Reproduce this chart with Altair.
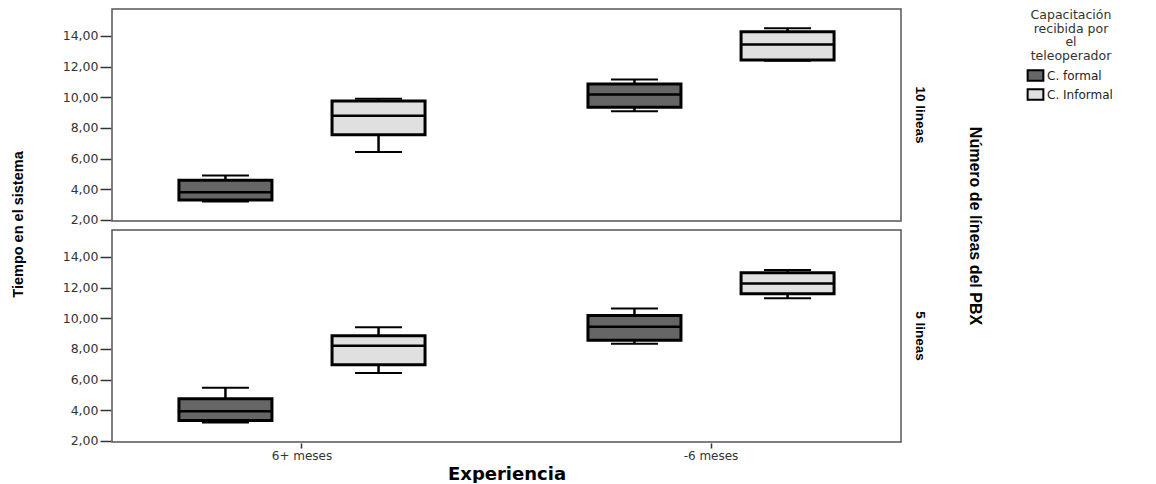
import altair as alt
import pandas as pd

lineas = ["10 lineas"] * 4 + ["5 lineas"] * 4
experiencia = ["6+ meses", "6+ meses", "-6 meses", "-6 meses"] * 2
capacitacion = ["C. formal", "C. Informal"] * 4
whisker_lo = [3.20, 6.42, 9.08, 12.38, 3.20, 6.42, 8.33, 11.30]
q1 = [3.30, 7.55, 9.34, 12.42, 3.33, 6.96, 8.57, 11.60]
median = [3.80, 8.79, 10.17, 13.44, 3.93, 8.20, 9.45, 12.26]
q3 = [4.58, 9.75, 10.86, 14.26, 4.75, 8.85, 10.18, 12.97]
whisker_hi = [4.90, 9.90, 11.16, 14.49, 5.46, 9.41, 10.63, 13.14]

exp_order = ["6+ meses", "-6 meses"]
cap_order = ["C. formal", "C. Informal"]
row_order = ["10 lineas", "5 lineas"]
y_ticks = [2, 4, 6, 8, 10, 12, 14]
y_title = ["Tiempo en el sistema"]

df = pd.DataFrame({
    "lineas": lineas, "exp": experiencia, "cap": capacitacion,
    "lo": whisker_lo, "q1": q1, "med": median, "q3": q3, "hi": whisker_hi,
})

WIDE = "DejaVu Sans"
NARROW = "Liberation Sans, Arial, sans-serif"
PANEL_H = 212
SPACING = 7

yscale = alt.Scale(domain=[1.93, 15.75], nice=False, zero=False)
yaxis = alt.Axis(
    title=None, values=y_ticks, grid=False,
    labelExpr="replace(format(datum.value, '.2f'), '.', ',')",
    tickSize=11, tickColor="#333", tickWidth=1.5, domain=False,
    labelFont=WIDE, labelFontSize=12.5, labelColor="#333", labelPadding=2,
)

def Y(field):
    return alt.Y(f"{field}:Q", scale=yscale, axis=yaxis)

X = alt.X("exp:N", sort=exp_order,
          scale=alt.Scale(paddingInner=0.2, paddingOuter=0.0645),
          axis=alt.Axis(title="Experiencia", labelAngle=0, tickSize=5, tickWidth=1.5,
                        tickColor="#333", domain=False,
                        labelFont=WIDE, labelFontSize=12, labelColor="#333", labelPadding=2,
                        titleFont=WIDE, titleFontSize=18, titleFontWeight="bold",
                        titleColor="#000", titlePadding=4))
XO = alt.XOffset("cap:N", sort=cap_order,
                 scale=alt.Scale(domain=cap_order, paddingInner=0.3, paddingOuter=0.2186))

whisker = alt.Chart().mark_rule(color="black", strokeWidth=2.5).encode(
    x=X, xOffset=XO, y=Y("lo"), y2="hi:Q")
box = alt.Chart().mark_bar(size=93, stroke="black", strokeWidth=3).encode(
    x=X, xOffset=XO, y=Y("q1"), y2="q3:Q",
    color=alt.Color("cap:N", sort=cap_order,
                    scale=alt.Scale(domain=cap_order, range=["#666666", "#e0e0e0"]),
                    legend=alt.Legend(
                        title=["Capacitación", "recibida por", "el", "teleoperador"],
                        titleAlign="center", titleAnchor="middle",
                        titleFont=WIDE, titleFontSize=12.5, titleFontWeight="normal",
                        titleColor="#333", titleLimit=300, titlePadding=7,
                        titleLineHeight=13.5,
                        labelFont=WIDE, labelFontSize=12, labelColor="#222",
                        symbolType="M-1.5,-1H1.5V1H-1.5Z", symbolSize=110,
                        symbolStrokeColor="black",
                        symbolStrokeWidth=2, symbolOpacity=1, rowPadding=0,
                        labelOffset=5)))
med_tick = alt.Chart().mark_tick(size=93, thickness=2.5, color="black", opacity=1).encode(
    x=X, xOffset=XO, y=Y("med"))
cap_lo = alt.Chart().mark_tick(size=47, thickness=2, color="black", opacity=1).encode(
    x=X, xOffset=XO, y=Y("lo"))
cap_hi = alt.Chart().mark_tick(size=47, thickness=2, color="black", opacity=1).encode(
    x=X, xOffset=XO, y=Y("hi"))

layer = alt.layer(whisker, box, med_tick, cap_lo, cap_hi, data=df).properties(
    width=789, height=PANEL_H)

faceted = layer.facet(
    row=alt.Row("lineas:N", sort=row_order,
                header=alt.Header(title="Número de líneas del PBX",
                                  labelOrient="right", titleOrient="right",
                                  labelAngle=90, titleAngle=90,
                                  labelFont=NARROW, labelFontSize=13.5, labelFontWeight="bold",
                                  labelColor="#000", labelPadding=11,
                                  titleFont=NARROW, titleFontSize=16, titleFontWeight="bold",
                                  titleColor="#000", titlePadding=30)),
    spacing=SPACING,
)

title_chart = alt.Chart(pd.DataFrame({"t": y_title})).mark_text(
    angle=270, align="center", baseline="middle", font=NARROW, fontSize=14.5,
    fontWeight="bold", color="#000",
).encode(
    text="t:N", x=alt.value(8), y=alt.value(PANEL_H + SPACING / 2),
).properties(width=20, height=2 * PANEL_H + SPACING,
             view=alt.ViewConfig(strokeWidth=0, stroke="transparent"))

chart = alt.hconcat(title_chart, faceted, spacing=31).properties(
    padding={"top": 0, "left": 2, "right": 5, "bottom": 0},
).configure_view(stroke="#555", strokeWidth=1.5).configure_legend(offset=46)

chart.save("out.html", embed_options={"renderer": "svg", "actions": False})
